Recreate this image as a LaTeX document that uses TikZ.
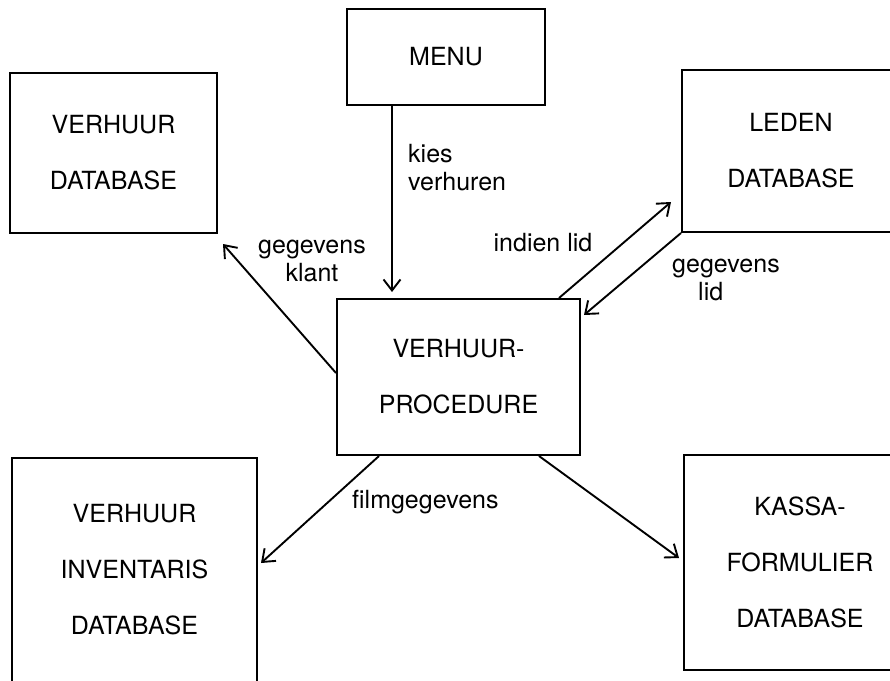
\documentclass[tikz,border=0pt]{standalone}
\usepackage{fontspec}
\setmainfont{TeX Gyre Heros}
\usetikzlibrary{arrows.meta}
\begin{document}
\begin{tikzpicture}[x=1pt,y=-1pt,
  box/.style={draw,line width=2pt,rectangle,inner sep=0pt,align=center,
    font=\fontsize{25}{56}\selectfont},
  lbl/.style={inner sep=0pt,font=\fontsize{25}{28}\selectfont},
  arr/.style={line width=1.9pt,-{Straight Barb[length=11pt,width=17pt]}}]
  \clip (0,0) rectangle (890,680);
  \fill[white] (0,0) rectangle (890,680);

  % boxes
  \node[box,minimum width=198pt,minimum height=96pt] (menu) at (446,57) {MENU};
  \node[box,minimum width=207pt,minimum height=160pt] (vdb) at (113.5,153) {VERHUUR\\DATABASE};
  \node[box,minimum width=218pt,minimum height=162pt] (leden) at (791,151) {LEDEN\\DATABASE};
  \node[box,minimum width=243pt,minimum height=156pt] (proc) at (458.5,377) {VERHUUR-\\PROCEDURE};
  \node[box,minimum width=245pt,minimum height=224pt] (inv) at (134.5,570) {VERHUUR\\INVENTARIS\\DATABASE};
  \node[box,minimum width=232pt,minimum height=215pt] (kassa) at (800,562.5) {KASSA-\\FORMULIER\\DATABASE};

  % connectors
  \draw[arr] ([xshift=-54pt]menu.south) -- ([xshift=-66.5pt,yshift=6pt]proc.north);
  \draw[arr] ([yshift=4pt]proc.west) -- ([xshift=5pt,yshift=-10pt]vdb.south east);
  \draw[arr] ([xshift=-22pt]proc.north east) -- ([xshift=-10pt,yshift=31pt]leden.south west);
  \draw[arr] (leden.south west) -- ([xshift=3pt,yshift=-17pt]proc.north east);
  \draw[arr] ([xshift=43pt]proc.south west) -- ([xshift=3pt,yshift=7pt]inv.east);
  \draw[arr] ([xshift=-42pt]proc.south east) -- ([xshift=-4pt,yshift=4.5pt]kassa.west);

  % labels
  \node[lbl,anchor=west,align=left] (kies) at (408,168) {kies\\verhuren};
  \node[lbl,align=center] (klant) at (312,261) {gegevens\\klant};
  \node[lbl] (indien) at (543,243) {indien lid};
  \node[lbl,anchor=west,align=left] (glid) at (672,280) {gegevens\\\hspace*{26pt}lid};
  \node[lbl,anchor=west] (film) at (352,502) {filmgegevens};
\end{tikzpicture}
\end{document}
